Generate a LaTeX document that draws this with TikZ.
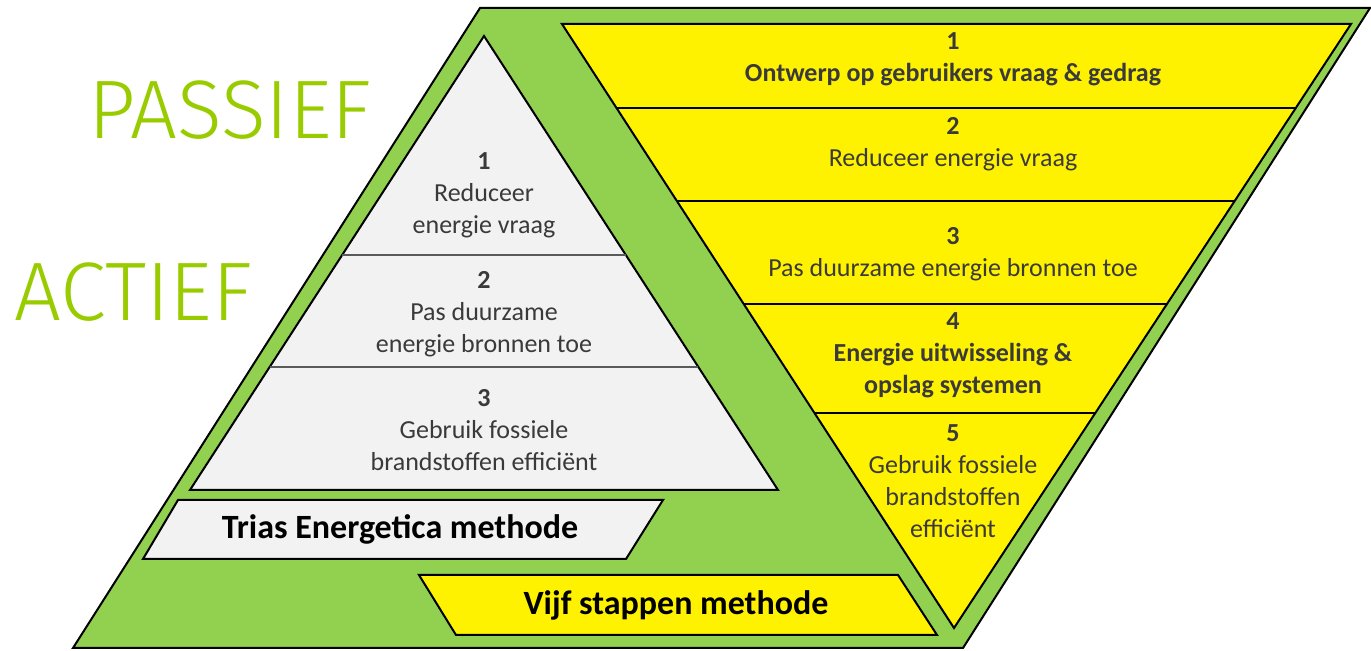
\documentclass[tikz,border=0pt]{standalone}
\usepackage{fontspec}
\setmainfont{Carlito}
\newfontfamily\thinfont{Fira Sans Light}
\usetikzlibrary{calc}
\definecolor{leaf}{HTML}{92D050}
\definecolor{lime}{HTML}{99CC00}
\definecolor{paper}{HTML}{F2F2F2}
\definecolor{ink}{HTML}{3A3A3A}
\definecolor{rule}{HTML}{5A5A5A}

\tikzset{
  shapeline/.style={draw=black, line width=1pt, line join=miter},
  steptext/.style={align=center, text=ink, font=\fontsize{13}{16}\selectfont},
  methodtext/.style={align=center, text=black, font=\fontsize{17}{20}\selectfont\bfseries},
  bigword/.style={text=lime, font=\thinfont\fontsize{41.5}{42}\selectfont, inner sep=0pt}
}

\begin{document}
\begin{tikzpicture}[x=0.5pt, y=-0.5pt]
  \useasboundingbox (0,0) rectangle (1371,651);

  %Kader
  \draw[shapeline, fill=leaf] (480,8) -- (1370,8) -- (963,648) -- (73,648) -- cycle;

  %Trias driehoek
  \coordinate (ta) at (484,36);
  \coordinate (tl) at (190,490);
  \coordinate (tr) at (778,490);
  \draw[shapeline, fill=paper] (ta) -- (tr) -- (tl) -- cycle;
  \draw[rule, line width=1.2pt] ($(ta)!0.482!(tl)$) -- ($(ta)!0.482!(tr)$);
  \draw[rule, line width=1.2pt] ($(ta)!0.729!(tl)$) -- ($(ta)!0.729!(tr)$);

  %Vijf stappen driehoek
  \coordinate (yl) at (562,24);
  \coordinate (yr) at (1351,24);
  \coordinate (ya) at (954,628);
  \draw[shapeline, fill=yellow] (yl) -- (yr) -- (ya) -- cycle;
  \foreach \t in {0.139,0.293,0.464,0.644}
    \draw[black, line width=1pt] ($(yl)!\t!(ya)$) -- ($(yr)!\t!(ya)$);

  %Methode balken
  \draw[shapeline, fill=paper] (178,500) -- (663,500) -- (626,559) -- (143,559) -- cycle;
  \draw[shapeline, fill=yellow] (419,575) -- (898,575) -- (937,635) -- (456,635) -- cycle;

  %Labels
  \node[bigword, anchor=south west] (passief) at (88,140) {PASSIEF};
  \node[bigword, anchor=south west] (actief) at (14,322) {ACTIEF};

  \node[steptext] (trias1) at (484,195) {\textbf{1}\\Reduceer\\energie vraag};
  \node[steptext] (trias2) at (484,314) {\textbf{2}\\Pas duurzame\\energie bronnen toe};
  \node[steptext] (trias3) at (484,430) {\textbf{3}\\Gebruik fossiele\\brandstoffen efficiënt};

  \node[steptext] (vijf1) at (953,59) {\textbf{1}\\\textbf{Ontwerp op gebruikers vraag \& gedrag}};
  \node[steptext] (vijf2) at (953,144) {\textbf{2}\\Reduceer energie vraag};
  \node[steptext] (vijf3) at (953,254) {\textbf{3}\\Pas duurzame energie bronnen toe};
  \node[steptext] (vijf4) at (953,355) {\textbf{4}\\\textbf{Energie uitwisseling \&}\\\textbf{opslag systemen}};
  \node[steptext] (vijf5) at (953,481) {\textbf{5}\\Gebruik fossiele\\brandstoffen\\efficiënt};

  \node[methodtext] (trias) at (400,529) {Trias Energetica methode};
  \node[methodtext] (vijf) at (676,605) {Vijf stappen methode};
\end{tikzpicture}
\end{document}
